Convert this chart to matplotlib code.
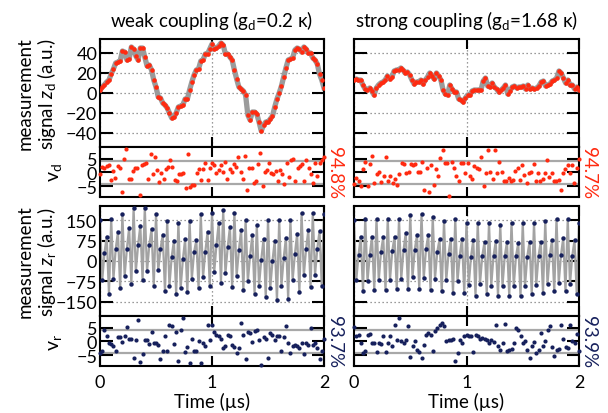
import numpy as np
import matplotlib
matplotlib.use('Agg')
import matplotlib.pyplot as plt

plt.rcParams['font.family'] = ['Lato', 'DejaVu Sans']
plt.rcParams['mathtext.fontset'] = 'custom'
plt.rcParams['mathtext.rm'] = 'Lato'
plt.rcParams['mathtext.it'] = 'Lato:italic'

RED = '#ff2a10'
NAVY = '#16205c'
GRAY = '#9b9b9b'

# ---------------- data ----------------
zd_weak = [2.7, 6, 8.3, 11, 13, 19, 24, 30, 31, 32, 42, 41, 33, 34, 46, 44, 37, 33, 45, 45,
           36, 27, 28, 23, 13, 6, -4, -5, -10, -12, -15, -20, -25, -24, -20, -14, -13, -12, -6, -6,
           3, 11, 18, 23, 24, 32, 33, 39, 39, 44, 49,
           44, 45, 47, 50, 48, 39, 39, 36, 33, 23, 14, 6, 4, 2, -2, -22, -27, -19, -19, -21,
           -29, -38, -32, -29, -29, -26, -23, -14, -6, 0, 7, 16, 25, 33, 34, 35, 43, 45, 44, 41,
           46, 44, 40, 40, 35, 33, 29, 19, 13, 5]
vd_weak = [-0.7, 2, 1.7, 2.3, 2.6, -2.7, 0.6, -2.1, 2.4, 1.7, -7.1, 5, 8.6, -2.5, -2.5, 0.6, 1.4, 1.4,
           -8.3, 2.6, 3, 3.5, -2.4, 6.5, -0.6, 5.4, 0.8, -3.6, -0.1, -2.4, 1.1, 1.8, 4.4, 1.8, -2.7,
           -3, -0.7, -0.6, -0.1, -5.7, 6.5, -5.5, -4.8, -4.5, -0.4, 1.1, -2.7, 1.1, 3.2, -2.7, 1.4, 3.2,
           2.6, -0.1, 0.8, 2.6, 0.2, 3.8, -2.5, 1.1, 0.2, 3, 2, 5.6, 0.2, -2.5, 6, -6.5, 1.7, 1.7,
           -3.9, -3, 2.9, 7, -5.1, 0.2, 0.8, 3.2, -0.1, -0.7, 0.5, -3.3, 0.8, -0.7, -4.2, 3.2, -1.9,
           4.4, 5, -3, 1.4, 2.3, 3, -3.3, 4.6, 1.4, -0.6, -3.9, 3.2, -1.5, 3.2, 4.6, 5.4]
zd_strong = [13, 14, 13, 13, 8, 4, 3, 5, 2, -2, 5, 8, 10, 11, 13, 17, 14, 16, 22, 23, 23, 25, 23, 20,
             21, 18, 13, 9, 11, 11, 13, 9, 13, 16, 20, 17, 14, 20, 17, 13, 3, -1, -2, 8, 4, 1, 1, -6,
             -7, -9, -5, -2,
             -2, 2, 3, 3, 3, 3, 12, 15, 7, 6, 10, 6, 4, 1, 3, 5, 8, -1, 2, 6, 7, 5, 6, 6, 7, 4, 8, 4,
             5, 4, 5, 7, 11, 12, 7, 8, 9, 12, 13, 15, 22, 20, 15, 10, 13, 8, 8, 4, 6, 3]
vd_strong = [-4.3, -2.1, -3, -4.9, 1.1, 3.6, -4.9, 3, 5.8, -3.9, -0.7, 0, -3.6, -1.5, 5.4, -3.3, -1.5,
             -3.9, -2.5, -4.8, -0.7, 3.5, 3, -0.4, 0.2, 2.9, 2.6, 2.9, 0.2, 0.2, 3.6, -6.5, 1.4, -7.1,
             2.6, -4.5, 1.1, -1.3, 5.2, 8.2, 3.2, 3.5, -8.7, 3.8, 1.7, -1.2, -3.3, 3.5, 3.5, -0.1, 3.5,
             -1.3, -2.5, 2.3, 1.4, 1.2, 5.4, -4.9, -0.4, 8.2, 0, -2.5, 8.2, -0.4, 3.8, 0, -3, -3, -2.1,
             -3, -2.7, 0.6, 1.4, -2.7, 2.6, -1, -3.9, -0.4, 0.2, 2.9, -3, -0.4, -3, -2.4, -0.4, 4.4,
             -1.9, -0.4, -3.3, -3, -2.7, -6.3, -0.1, 1.2, 2.6, -0.1, 2.6, -3.9, 1.4, 4.8]
zr_weak = [150, -70, 30, 89, -120,
           154, -65, 43, 107, -100,
           171, -55, 45, 122, -85,
           193, -38, 58, 130, -69,
           196, -38, 58, 117, -90,
           171, -34, 43, 97, -112,
           146, -90, 15, 75, -121,
           141, -100, 6, 79, -114,
           146, -65, 33, 76, -100,
           171, -59, 33, 107, -92,
           175, -40, 60, 140, -80,
           187, -45, 50, 125, -95,
           178, -55, 40, 115, -105,
           150, -75, 20, 95, -120,
           131, -90, 5, 80, -133,
           150, -100, 0, 75, -145,
           150, -90, 10, 85, -139,
           150, -70, 25, 100, -115,
           175, -53, 45, 113, -96,
           175, -50, 45, 110, -92,
           171]
vr_weak = [-4.2, -3.6, 4, 1.8, -0.6, -1, -1.6, -3.6, 1.6, 1.6, -0.2, 1.8, 5.2, 0.8, 0.8, -6, 0.6,
           7.8, -7.6, -4.6, 0.6, 0.4, -1, 3.2, -0.6, -0.6, -1.2, -6.6, -3.6, 1.8, -3.6, 6, 5.6, -1,
           3.2, -7.2, 4.2, 8.4, -4, -2, -7.8, 0.8, -3.6, -3.6, 0, -7.8, -0.6, -1.6, 6, 0.4, 6,
           3.2, 2.4, 1.8, 0.8, -2.4, -1.8, 2.4, 1.8, -1.2, -2, -4.2, -2.4, 6.6, 2.4, -6.6, 3.2, 3,
           -0.4, 3.7, 4, 0.6, -8.8, 1.5, 0.8, -6, 3, 2.4, 0.6, 2, 1.8, -3.6, 1.5, 5.4, -0.6, -4.2,
           -1.6, -1.2, -1.8, -2.4, -0.6, -4.8, -0.6, -1.2, 4.8, -1.2, -0.6, -2.4, -6.6, -3.6, 1.0]
zr_strong = [150, -71, 21, 89, -111,
             156, -74, 21, 89, -105,
             154, -71, 33, 89, -105,
             156, -69, 36, 89, -102,
             154, -65, 39, 103, -102,
             168, -60, 42, 95, -102,
             171, -63, 43, 95, -105,
             162, -65, 33, 79, -112,
             146, -71, 25, 82, -117,
             154, -75, 20, 82, -117,
             141, -87, 15, 76, -127,
             141, -84, 18, 70, -121,
             141, -90, 18, 72, -130,
             134, -92, 18, 70, -130,
             141, -92, 18, 66, -130,
             141, -92, 15, 70, -121,
             141, -88, 18, 70, -117,
             146, -85, 21, 76, -112,
             154, -80, 23, 85, -112,
             154, -85, 18, 76, -123,
             141]
vr_strong = [5.2, 1.8, 2.4, -0.6, -4.2, -3.6, 2.4, 2.8, -0.6, -0.6,
             -4, -0.6, -1, 2, -4, -0.6, 2, -1.8, 6, 0.6,
             8.4, 0, -0.6, 0.6, 5.4, -5.8, -1.8, 0, -3, -4,
             -6, -1.2, 2.4, 3, 2.4, -3.6, 3.6, 4.8, 6, 6.6,
             5.4, 0, 0.6, 0.4, 0.8, -7.2, -4.2, 0.6, -0.6, 1.8,
             2.4, 1.8, 1.8, -4, 2.4, 1.8, 0.8, 1.2, 0.8, 0.6,
             -0.6, 0.4, -0.2, 6, -1.8, -3, -0.6, 6.2, -3.6, -3.2,
             -2.8, -0.6, 4.8, 4, 1.8, -0.6, 0, -3, -6, -1.6,
             -0.4, -4.2, -3, 3, -1.8, 0, 4, 5.6, -2, -5.4,
             -3, -2.8, 6, 0.8, -2, -2.4, 6, 0, -0.6, 2.8, -3.6]

titles = ['weak coupling (g$_\\mathregular{d}$=0.2 \u03ba)',
          'strong coupling (g$_\\mathregular{d}$=1.68 \u03ba)']
pct_d = ['94.8%', '94.7%']
pct_r = ['93.7%', '93.9%']
xticks = [0, 1, 2]
zd_ticks = [-40, -20, 0, 20, 40]
zr_ticks = [-150, -75, 0, 75, 150]
v_ticks = [-5, 0, 5]
v_thresh = 4.2

# ---------------- figure ----------------
W, H = 608, 414
fig = plt.figure(figsize=(W / 100, H / 100), dpi=100)


def ax_at(x0, y0, x1, y1):
    return fig.add_axes([x0 / W, 1 - y1 / H, (x1 - x0) / W, (y1 - y0) / H])


cols = [(100, 324), (354, 579)]
rows = [(40, 148), (148, 198), (207, 317), (317, 367)]


def style(ax, yticks, ylim, showy, showx, grid):
    ax.set_xlim(0, 2)
    ax.set_ylim(*ylim)
    ax.set_xticks(xticks)
    ax.set_yticks(yticks)
    for s in ax.spines.values():
        s.set_linewidth(1.5)
    ax.tick_params(axis='y', direction='in', length=9, width=1.5, left=True, right=True,
                   labelleft=showy, labelsize=13, pad=2)
    ax.tick_params(axis='x', direction='in', length=7, width=1.5, top=True, bottom=True,
                   labelbottom=showx, labelsize=13, pad=6)
    if grid:
        ax.grid(True, ls=(0, (1, 2.2)), color='#7a7a7a', lw=0.9)
        ax.set_axisbelow(True)


data = [(zd_weak, vd_weak, zr_weak, vr_weak), (zd_strong, vd_strong, zr_strong, vr_strong)]

for c, (x0, x1) in enumerate(cols):
    zd, vd, zr, vr = data[c]
    showy = (c == 0)

    a = ax_at(x0, rows[0][0], x1, rows[0][1])
    t = np.linspace(0, 2, len(zd))
    a.plot(t, zd, color=GRAY, lw=3.8, solid_joinstyle='round', zorder=2)
    a.plot(t, zd, 'o', color=RED, ms=3.3, mec='none', zorder=3)
    style(a, zd_ticks, (-54, 54), showy, False, True)
    a.set_title(titles[c], fontsize=13.5, pad=9)

    a = ax_at(x0, rows[1][0], x1, rows[1][1])
    t = np.linspace(0, 2, len(vd))
    for h in (-v_thresh, v_thresh):
        a.axhline(h, color='#a8a8a8', lw=1.6, zorder=1)
    a.plot(t, vd, 'o', color=RED, ms=3.0, mec='none', zorder=3, clip_on=False)
    style(a, v_ticks, (-9, 9.2), showy, False, False)

    a = ax_at(x0, rows[2][0], x1, rows[2][1])
    t = np.linspace(0, 2, len(zr))
    a.plot(t, zr, color='#a3a3a3', lw=1.6, zorder=2)
    a.plot(t, zr, 'o', color=NAVY, ms=3.2, mec='none', zorder=3)
    style(a, zr_ticks, (-202, 202), showy, False, True)

    a = ax_at(x0, rows[3][0], x1, rows[3][1])
    t = np.linspace(0, 2, len(vr))
    for h in (-v_thresh, v_thresh):
        a.axhline(h, color='#a8a8a8', lw=1.6, zorder=1)
    a.plot(t, vr, 'o', color=NAVY, ms=3.0, mec='none', zorder=3, clip_on=False)
    style(a, v_ticks, (-9, 9.2), showy, True, False)
    a.set_xlabel('Time (\u00b5s)', fontsize=13.5, labelpad=1)

    fig.text((x1 + 10) / W, 1 - 173 / H, pct_d[c], rotation=270, color=RED, fontsize=13.5,
             ha='center', va='center')
    fig.text((x1 + 10) / W, 1 - 342 / H, pct_r[c], rotation=270, color=NAVY, fontsize=13.5,
             ha='center', va='center')

# y labels
fig.text(25 / W, 1 - 94 / H, 'measurement', rotation=90, fontsize=13.5, ha='center', va='center')
fig.text(47 / W, 1 - 94 / H, 'signal $\\mathit{z}_\\mathregular{d}$ (a.u.)', rotation=90,
         fontsize=13.5, ha='center', va='center')
fig.text(55 / W, 1 - 173 / H, 'v$_\\mathregular{d}$', rotation=90, fontsize=14, ha='center', va='center')
fig.text(25 / W, 1 - 262 / H, 'measurement', rotation=90, fontsize=13.5, ha='center', va='center')
fig.text(47 / W, 1 - 262 / H, 'signal $\\mathit{z}_\\mathregular{r}$ (a.u.)', rotation=90,
         fontsize=13.5, ha='center', va='center')
fig.text(55 / W, 1 - 342 / H, 'v$_\\mathregular{r}$', rotation=90, fontsize=14, ha='center', va='center')

fig.savefig('out.png', dpi=100)
